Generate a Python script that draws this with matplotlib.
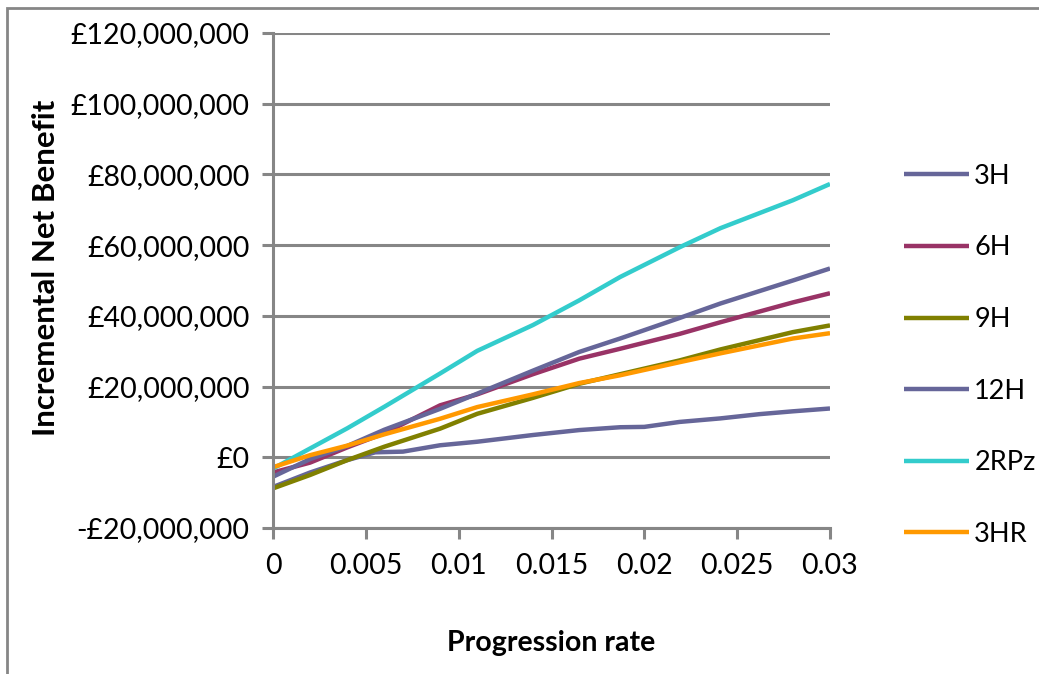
import numpy as np
import matplotlib.pyplot as plt
from matplotlib.patches import Rectangle
from matplotlib.ticker import FuncFormatter

# progression rate points and incremental net benefit in £m
rate_3h = [0, 0.002, 0.004, 0.0055, 0.007, 0.009, 0.011, 0.014, 0.0165, 0.0187, 0.020, 0.0219, 0.0241, 0.0262, 0.028, 0.030]
inb_3h = [-8.4, -4.3, -0.8, 1.4, 1.6, 3.4, 4.4, 6.3, 7.7, 8.5, 8.6, 10.0, 11.0, 12.2, 13.0, 13.8]

rate = [0, 0.002, 0.004, 0.006, 0.009, 0.011, 0.014, 0.0165, 0.0187, 0.0219, 0.0241, 0.028, 0.030]
inb_6h = [-4.3, -1.5, 2.8, 6.8, 14.7, 17.8, 23.5, 27.9, 30.7, 34.9, 38.2, 43.8, 46.4]
inb_9h = [-8.8, -5.0, -0.8, 3.0, 8.1, 12.3, 16.8, 20.8, 23.5, 27.4, 30.5, 35.4, 37.3]
inb_12h = [-5.5, -0.5, 3.2, 7.8, 13.7, 18.0, 24.5, 29.8, 33.6, 39.4, 43.5, 50.0, 53.4]
inb_2rpz = [-3.2, 2.5, 8.2, 14.3, 23.7, 30.1, 37.4, 44.4, 51.0, 59.4, 64.8, 72.7, 77.3]
inb_3hr = [-2.8, 0.6, 3.3, 6.5, 10.9, 14.2, 17.8, 21.0, 23.2, 26.9, 29.4, 33.6, 35.1]

labels = ['3H', '6H', '9H', '12H', '2RPz', '3HR']
colors = ['#666699', '#993366', '#808000', '#666699', '#33CCCC', '#FF9900']

plt.rcParams['font.family'] = ['Lato', 'DejaVu Sans']
fs = 20.5
grey = '#868686'

fig = plt.figure(figsize=(10.39, 6.74), dpi=100)
ax = fig.add_axes([273/1039, 1-528/674, 557/1039, 495/674])

series = [(rate_3h, inb_3h), (rate, inb_6h), (rate, inb_9h), (rate, inb_12h), (rate, inb_2rpz), (rate, inb_3hr)]
for (x, y), lab, c in zip(series, labels, colors):
    ax.plot(x, np.array(y) * 1e6, color=c, lw=3.2, label=lab, solid_capstyle='butt')

ax.set_xlim(0, 0.03)
ax.set_ylim(-20e6, 120e6)
ax.set_xticks([0, 0.005, 0.01, 0.015, 0.02, 0.025, 0.03])
ax.set_xticklabels(['0', '0.005', '0.01', '0.015', '0.02', '0.025', '0.03'])
ax.set_yticks(np.arange(-20e6, 121e6, 20e6))


def pounds(v, pos):
    s = '£{:,.0f}'.format(abs(v))
    return '-' + s if v < 0 else s


ax.yaxis.set_major_formatter(FuncFormatter(pounds))
ax.grid(axis='y', color=grey, lw=2.2)
ax.set_axisbelow(True)
for side in ['top', 'right']:
    ax.spines[side].set_visible(False)
for side in ['left', 'bottom']:
    ax.spines[side].set_color(grey)
    ax.spines[side].set_linewidth(2.2)
ax.tick_params(axis='both', colors=grey, width=2.2, length=8, labelcolor='black', labelsize=fs)
ax.tick_params(axis='x', pad=10)
ax.tick_params(axis='y', pad=9)

ax.set_xlabel('Progression rate', fontsize=20.5, fontweight='bold')
ax.set_ylabel('Incremental Net Benefit', fontsize=22.5, fontweight='bold')
ax.xaxis.set_label_coords(0.5, (528-630)/495)
ax.yaxis.set_label_coords((60-273)/557, (528-268)/495)

ax.legend(loc='upper left', bbox_to_anchor=((893-273)/557, (528-153)/495), frameon=False, fontsize=19.5,
          handlelength=2.4, handletextpad=0.2, labelspacing=1.72, borderaxespad=0)

fig.patches.append(Rectangle((7/1039, -0.1), 1.1, 1-8/674+0.1, transform=fig.transFigure,
                             fill=False, edgecolor=grey, lw=2))

fig.savefig('out.png', dpi=100)
